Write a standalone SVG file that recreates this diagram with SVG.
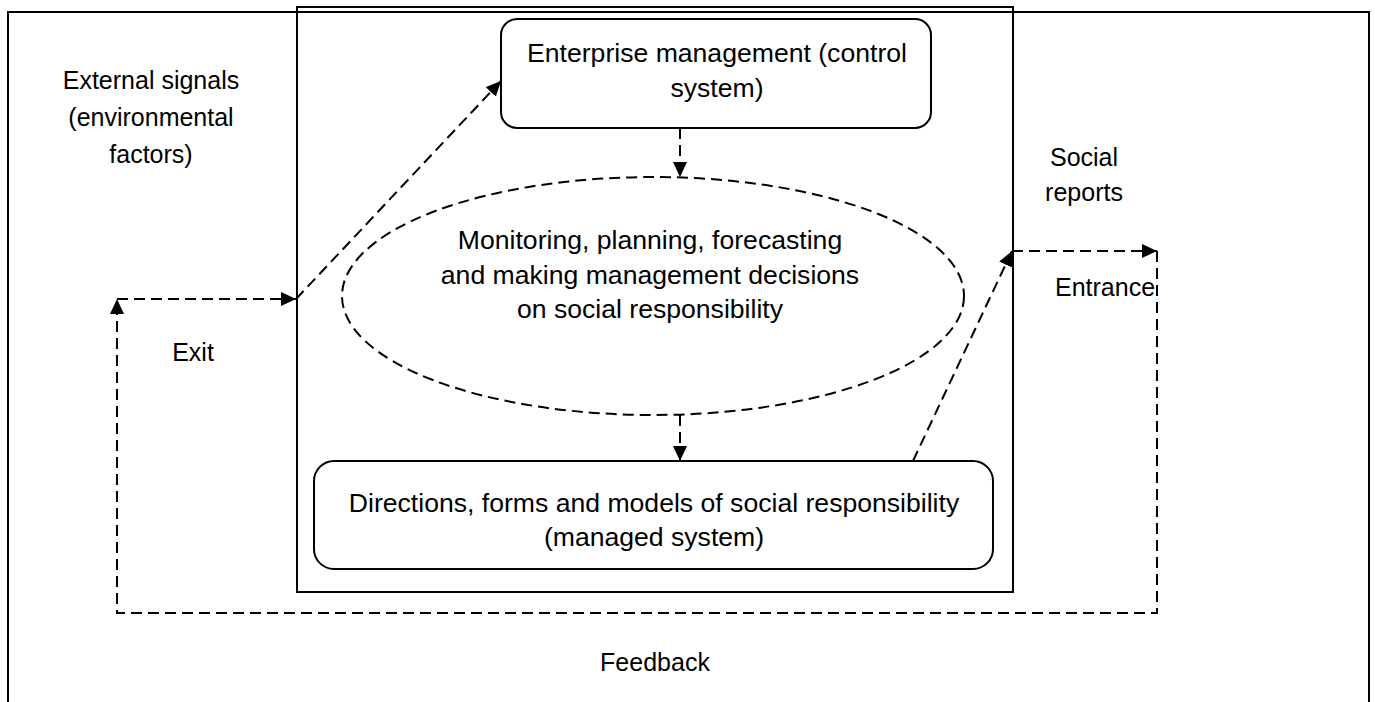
<svg xmlns="http://www.w3.org/2000/svg" width="1375" height="702" viewBox="0 0 1375 702">
<style>
  .frame { fill: none; stroke: #000; stroke-width: 2; }
  .box { fill: #fff; stroke: #000; stroke-width: 2; }
  .oval { fill: none; stroke: #000; stroke-width: 2; stroke-dasharray: 11 6; }
  .conn { fill: none; stroke: #000; stroke-width: 2; stroke-dasharray: 11 6; }
  text { font-family: "Liberation Sans", Arial, sans-serif; font-size: 25px; fill: #000; text-anchor: middle; }
  .node-text { font-size: 26.6px; }
</style>
<defs>
  <marker id="arrow" markerUnits="userSpaceOnUse" markerWidth="16" markerHeight="14" refX="15" refY="7" orient="auto">
    <path d="M0,0 L15,7 L0,14 Z" fill="#000"/>
  </marker>
</defs>
<rect x="8" y="12" width="1361" height="720" class="frame"/>
<rect x="297" y="7" width="716" height="585" class="frame"/>

<g id="connectors">
  <path class="conn" d="M1157,251 L1157,613 L117,613 L117,299" marker-end="url(#arrow)"/>
  <path class="conn" d="M117,299 L296,299" marker-end="url(#arrow)"/>
  <path class="conn" d="M296,299 L501,81" marker-end="url(#arrow)"/>
  <path class="conn" d="M680,128 L680,177" marker-end="url(#arrow)"/>
  <path class="conn" d="M680,415 L680,461" marker-end="url(#arrow)"/>
  <path class="conn" d="M913,461 L1012,251" marker-end="url(#arrow)"/>
  <path class="conn" d="M1012,251 L1157,251" marker-end="url(#arrow)"/>
</g>

<g id="control-system">
  <rect x="501" y="19" width="430" height="109" rx="16" class="box"/>
  <text class="node-text" x="717" y="62">Enterprise management (control</text>
  <text class="node-text" x="717" y="97">system)</text>
</g>

<g id="decisions">
  <ellipse cx="653" cy="296" rx="311" ry="119" class="oval"/>
  <text class="node-text" x="650" y="249">Monitoring, planning, forecasting</text>
  <text class="node-text" x="650" y="284">and making management decisions</text>
  <text class="node-text" x="650" y="318">on social responsibility</text>
</g>

<g id="managed-system">
  <rect x="314" y="461" width="679" height="108" rx="20" class="box"/>
  <text class="node-text" x="654" y="512">Directions, forms and models of social responsibility</text>
  <text class="node-text" x="654" y="546">(managed system)</text>
</g>

<g id="external-signals">
  <text x="151" y="89">External signals</text>
  <text x="151" y="126">(environmental</text>
  <text x="151" y="163">factors)</text>
</g>

<g id="social-reports">
  <text x="1084" y="166">Social</text>
  <text x="1084" y="201">reports</text>
</g>

<g id="entrance"><text x="1105" y="296">Entrance</text></g>
<g id="exit"><text x="193" y="361">Exit</text></g>
<g id="feedback"><text x="655" y="671">Feedback</text></g>
</svg>
